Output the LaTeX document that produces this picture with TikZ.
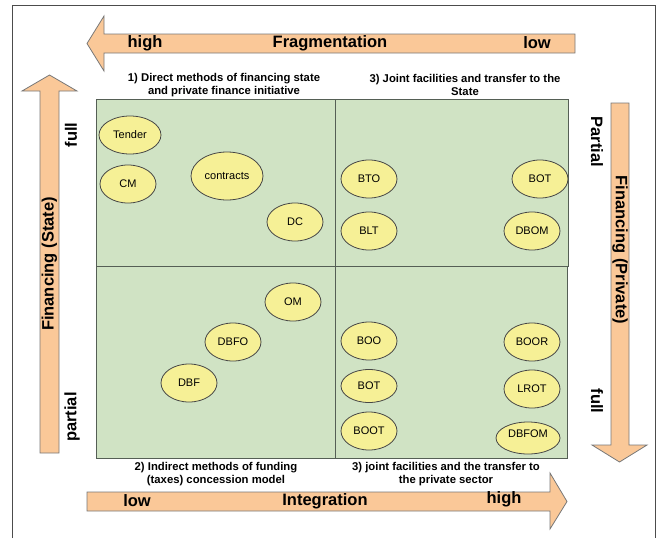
\documentclass[tikz,border=0pt]{standalone}
\usepackage{fontspec}
\setmainfont{Liberation Sans}
\usepackage{xcolor}
\usepackage{tikz}
\usetikzlibrary{shapes.geometric}
\definecolor{arrow_fill}{RGB}{250, 200, 152}
\definecolor{arrow_line}{RGB}{120, 120, 120}
\definecolor{quad_fill}{RGB}{208, 227, 196}
\definecolor{quad_line}{RGB}{85, 95, 85}
\definecolor{oval_fill}{RGB}{246, 240, 150}
\definecolor{oval_line}{RGB}{70, 70, 70}

\begin{document}
\begin{tikzpicture}[x=1pt, y=-1pt,
    bigarrow/.style={draw=arrow_line, fill=arrow_fill, line width=0.8pt, line join=miter},
    quad/.style={draw=quad_line, fill=quad_fill, line width=0.9pt},
    oval/.style={ellipse, draw=oval_line, fill=oval_fill, line width=0.8pt,
                 minimum width=56pt, minimum height=38pt, inner sep=0pt,
                 font=\fontsize{11}{13}\selectfont},
    axistext/.style={font=\fontsize{16.5}{18}\selectfont\bfseries, inner sep=0pt},
    heading/.style={font=\fontsize{11.3}{12.5}\selectfont\bfseries, align=center, inner sep=0pt}]
        \useasboundingbox (0,0) rectangle (660,538);
        % frame
        \draw[draw=black!70, line width=0.8pt] (12,538) -- (12,5) -- (655,5) -- (655,538);

        % arrows
        \draw[bigarrow] (575,34) -- (104,34) -- (104,16) -- (87,43.5) -- (104,71) -- (104,53) -- (575,53) -- cycle;
        \draw[bigarrow] (87,492) -- (550,492) -- (550,473) -- (567,501.5) -- (550,529) -- (550,511) -- (87,511) -- cycle;
        \draw[bigarrow] (40,453) -- (40,91) -- (22,91) -- (49.5,75) -- (77,91) -- (59,91) -- (59,453) -- cycle;
        \draw[bigarrow] (611,103) -- (611,445) -- (592,445) -- (619.5,462) -- (647,445) -- (629,445) -- (629,103) -- cycle;

        % quadrants
        \draw[quad] (96,99) rectangle (335,266);
        \draw[quad] (335,99) rectangle (568,266);
        \draw[quad] (96,266) rectangle (335,458);
        \draw[quad] (335,266) rectangle (567,458);

        % axis labels
        \node[axistext] (fraghigh) at (145,43) {high};
        \node[axistext] (frag) at (330,43) {Fragmentation};
        \node[axistext] (fraglow) at (537,43) {low};
        \node[axistext] (intlow) at (137,501) {low};
        \node[axistext] (integ) at (325,501) {Integration};
        \node[axistext] (inthigh) at (504,499) {high};
        \node[axistext, rotate=90] (finstate) at (49.5,264) {Financing (State)};
        \node[axistext, rotate=90] (statefull) at (71,135) {full};
        \node[axistext, rotate=90] (statepart) at (72,417) {partial};
        \node[axistext, rotate=-90] (finpriv) at (620,250) {Financing (Private)};
        \node[axistext, rotate=-90] (privpart) at (597,142) {Partial};
        \node[axistext, rotate=-90] (privfull) at (597,401) {full};

        % quadrant headings
        \node[heading] (direct) at (224,85) {1) Direct methods of financing state\\and private finance initiative};
        \node[heading] (jointstate) at (465,85) {3) Joint facilities and transfer to the\\State};
        \node[heading] (indirect) at (216,474) {2) Indirect methods of funding\\(taxes) concession model};
        \node[heading] (jointpriv) at (446,474) {3) joint facilities and the transfer to\\the private sector};

        % models
        \node[oval, minimum width=62pt] (tender) at (130,135) {Tender};
        \node[oval] (cm) at (128,184) {CM};
        \node[oval, minimum width=72pt, minimum height=48pt] (contracts) at (227,176) {contracts};
        \node[oval] (dc) at (295,222) {DC};
        \node[oval] (bto) at (369,179) {BTO};
        \node[oval] (botstate) at (540,179) {BOT};
        \node[oval] (blt) at (369,231) {BLT};
        \node[oval] (dbom) at (532,231) {DBOM};
        \node[oval] (om) at (293,302) {OM};
        \node[oval] (dbfo) at (233,342) {DBFO};
        \node[oval] (dbf) at (189,383) {DBF};
        \node[oval] (boo) at (369,341) {BOO};
        \node[oval] (boor) at (532,342) {BOOR};
        \node[oval, minimum height=33pt] (botpriv) at (369,386) {BOT};
        \node[oval] (lrot) at (532,389) {LROT};
        \node[oval] (boot) at (369,431) {BOOT};
        \node[oval, minimum width=64pt, minimum height=32pt, text depth=8pt] (dbfom) at (528,438) {DBFOM};
\end{tikzpicture}
\end{document}
